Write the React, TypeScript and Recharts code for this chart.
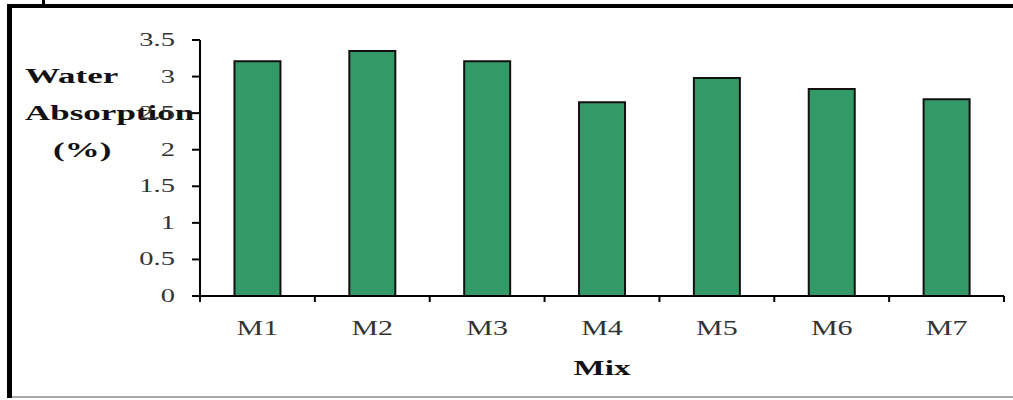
import React from "react";
import { BarChart, Bar, XAxis, YAxis, Label } from "recharts";

const mixes = ["M1", "M2", "M3", "M4", "M5", "M6", "M7"];
const waterAbsorption = [3.21, 3.35, 3.21, 2.65, 2.98, 2.83, 2.69];
const yTicks = [0, 0.5, 1, 1.5, 2, 2.5, 3, 3.5];

const data = mixes.map((mix, i) => ({ mix, value: waterAbsorption[i] }));

const WIDTH = 1013;
const HEIGHT = 400;
const Y_AXIS_W = 60;
const MARGIN = { top: 40, right: 9, bottom: 74, left: 140 };
const PLOT_W = WIDTH - MARGIN.left - Y_AXIS_W - MARGIN.right;
const HALF_BAND = PLOT_W / mixes.length / 2;

const SERIF = "'Liberation Serif', 'Times New Roman', serif";
const STRETCH = 1.5;

function YTick(props: any) {
  const { x, y, payload } = props;
  return (
    <text
      transform={`translate(${x},${y + 6}) scale(${STRETCH},1)`}
      textAnchor="end"
      fontFamily={SERIF}
      fontSize={19}
      fill="#333"
    >
      {payload.value}
    </text>
  );
}

function XTick(props: any) {
  const { x, y, payload, index } = props;
  const left = x - HALF_BAND;
  const right = x + HALF_BAND;
  return (
    <g>
      <line x1={left} x2={left} y1={y - 6} y2={y} stroke="#000" strokeWidth={2} />
      {index === mixes.length - 1 && (
        <line x1={right} x2={right} y1={y - 6} y2={y} stroke="#000" strokeWidth={2} />
      )}
      <text
        transform={`translate(${x},${y + 33}) scale(${STRETCH},1)`}
        textAnchor="middle"
        fontFamily={SERIF}
        fontSize={20}
        fill="#333"
      >
        {payload.value}
      </text>
    </g>
  );
}

function boldText(str: string, x: number, y: number, anchor: "start" | "middle", sx = 1.75) {
  return (
    <text
      key={str}
      transform={`translate(${x},${y}) scale(${sx},1)`}
      textAnchor={anchor}
      fontFamily={SERIF}
      fontWeight="bold"
      fontSize={20}
      fill="#111"
    >
      {str}
    </text>
  );
}

function YTitle() {
  return (
    <g>
      {boldText("Water", 25, 83, "start")}
      {boldText("Absorption", 25, 120, "start")}
      {boldText("(%)", 53, 157, "start")}
    </g>
  );
}

function XTitle(props: any) {
  const { viewBox } = props;
  const cx = viewBox.x + viewBox.width / 2;
  return boldText("Mix", cx, 375, "middle", 1.65);
}

export default function App() {
  return (
    <div style={{ position: "absolute", left: 0, top: 0, width: WIDTH, height: HEIGHT, background: "#fff" }}>
      <BarChart width={WIDTH} height={HEIGHT} data={data} margin={MARGIN} barCategoryGap="30%">
        <XAxis
          dataKey="mix"
          tick={<XTick />}
          tickLine={false}
          tickSize={6}
          tickMargin={0}
          axisLine={{ stroke: "#000", strokeWidth: 2 }}
          interval={0}
        >
          <Label content={<XTitle />} />
        </XAxis>
        <YAxis
          width={Y_AXIS_W}
          domain={[0, 3.5]}
          ticks={yTicks}
          tick={<YTick />}
          tickSize={8}
          tickMargin={17}
          tickLine={{ stroke: "#000", strokeWidth: 2 }}
          axisLine={{ stroke: "#000", strokeWidth: 2 }}
          interval={0}
        >
          <Label content={<YTitle />} />
        </YAxis>
        <Bar dataKey="value" fill="#339966" stroke="#111" strokeWidth={2} isAnimationActive={false} />
      </BarChart>
      <div style={{ position: "absolute", left: 7, top: 4, width: 1006, height: 4, background: "#000" }} />
      <div style={{ position: "absolute", left: 7, top: 4, width: 5, height: 394, background: "#000" }} />
      <div style={{ position: "absolute", left: 12, top: 396, width: 1001, height: 2, background: "#aaa" }} />
      <div style={{ position: "absolute", left: 42, top: 0, width: 3, height: 5, background: "#000" }} />
    </div>
  );
}
